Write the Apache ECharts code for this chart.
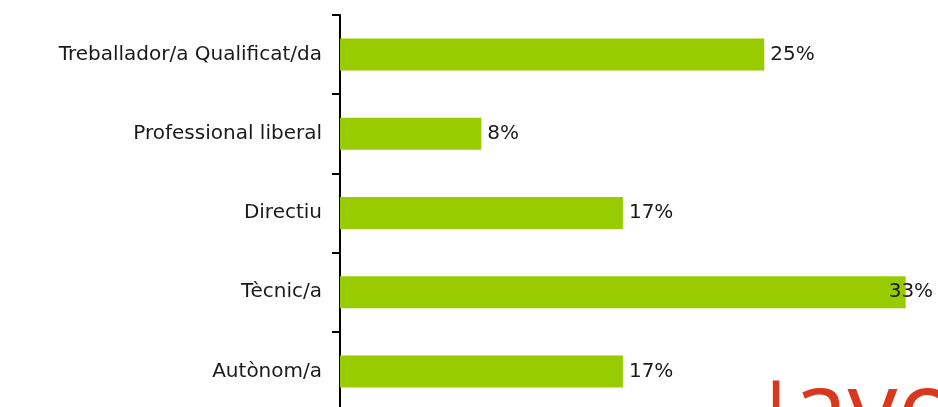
<!DOCTYPE html>
<html>
<head>
<meta charset="utf-8">
<script src="https://cdn.jsdelivr.net/npm/echarts@6/dist/echarts.min.js"></script>
<style>html,body{margin:0;padding:0;background:#fff;}#c{width:938px;height:407px;}</style>
</head>
<body>
<div id="c"></div>
<script>
const categories = ['Treballador/a Qualificat/da', 'Professional liberal', 'Directiu', 'Tècnic/a', 'Autònom/a'];
const values = [25, 8.33, 16.67, 33.33, 16.67];
const labels = ['25%', '8%', '17%', '33%', '17%'];

const chart = echarts.init(document.getElementById('c'));
const FONT = 'DejaVu Sans';
chart.setOption({
  animation: false,
  grid: { left: 340, top: 15, width: 594, height: 396, outerBoundsMode: 'none', containLabel: false },
  xAxis: { type: 'value', min: 0, max: 35, show: false },
  yAxis: {
    type: 'category', inverse: true, data: categories,
    axisLine: { show: true, lineStyle: { color: '#000', width: 2 } },
    axisTick: { show: true, length: 8, lineStyle: { color: '#000', width: 2 } },
    axisLabel: { margin: 18, color: '#1a1a1a', fontFamily: FONT, fontSize: 20 }
  },
  series: [{
    type: 'bar', barWidth: 32,
    itemStyle: { color: '#99CC00' },
    label: {
      show: true, position: 'right', distance: 6, color: '#1a1a1a', fontFamily: FONT, fontSize: 20,
      formatter: p => labels[p.dataIndex]
    },
    data: values.map((v, i) => i === 3 ? { value: v, label: { offset: [-23, 0] } } : v)
  }],
  graphic: [
    { type: 'text', left: 766, top: 379, silent: true,
      style: { text: 'l', fill: '#d9381e', font: '80px "Open Sans"' } },
    { type: 'text', left: 792, top: 365, silent: true,
      style: { text: 'avola', fill: '#d9381e', font: '100px "Open Sans"' } }
  ]
});
</script>
</body>
</html>
